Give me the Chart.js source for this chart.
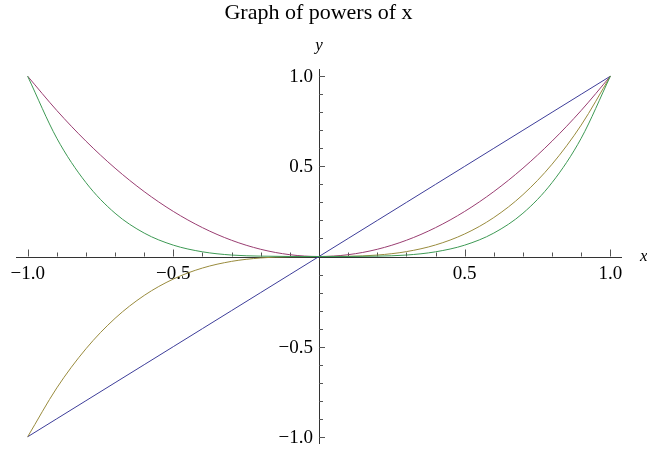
<!DOCTYPE html>
<html>
<head>
<meta charset="utf-8">
<script src="https://cdn.jsdelivr.net/npm/chart.js@4.4.1/dist/chart.umd.min.js"></script>
<style>
  html, body { margin: 0; padding: 0; background: #fff; }
  #wrap { width: 647px; height: 451px; position: relative; }
</style>
</head>
<body>
<div id="wrap"><canvas id="powers"></canvas></div>
<script>
// ---------- Data ----------
const xs     = [-1.0, -0.9, -0.8, -0.7, -0.6, -0.5, -0.4, -0.3, -0.2, -0.1, 0, 0.1, 0.2, 0.3, 0.4, 0.5, 0.6, 0.7, 0.8, 0.9, 1.0];
const pow1   = [-1.0, -0.9, -0.8, -0.7, -0.6, -0.5, -0.4, -0.3, -0.2, -0.1, 0, 0.1, 0.2, 0.3, 0.4, 0.5, 0.6, 0.7, 0.8, 0.9, 1.0];
const pow2   = [1.0, 0.81, 0.64, 0.49, 0.36, 0.25, 0.16, 0.09, 0.04, 0.01, 0, 0.01, 0.04, 0.09, 0.16, 0.25, 0.36, 0.49, 0.64, 0.81, 1.0];
const pow3   = [-1.0, -0.729, -0.512, -0.343, -0.216, -0.125, -0.064, -0.027, -0.008, -0.001, 0, 0.001, 0.008, 0.027, 0.064, 0.125, 0.216, 0.343, 0.512, 0.729, 1.0];
const pow4   = [1.0, 0.656, 0.41, 0.24, 0.13, 0.063, 0.026, 0.008, 0.002, 0.0001, 0, 0.0001, 0.002, 0.008, 0.026, 0.063, 0.13, 0.24, 0.41, 0.656, 1.0];

const majorTicks = [-1.0, -0.5, 0.5, 1.0];
const tickLabels = ["\u22121.0", "\u22120.5", "0.5", "1.0"];
const minorTicks = [-0.9, -0.8, -0.7, -0.6, -0.4, -0.3, -0.2, -0.1, 0.1, 0.2, 0.3, 0.4, 0.6, 0.7, 0.8, 0.9];

const titleText = "Graph of powers of x";
const colors = ["#3d3d99", "#993d71", "#998b3d", "#3d9954"];

const SERIF = "'Liberation Serif', 'Times New Roman', serif";

const toPoints = ys => xs.map((x, i) => ({ x, y: ys[i] }));

// ---------- Axes through the origin, Mathematica style ----------
const originAxes = {
  id: "originAxes",
  beforeDatasetsDraw(chart) {
    const { ctx, scales: { x, y } } = chart;
    const x0 = x.getPixelForValue(0);
    const y0 = y.getPixelForValue(0);
    ctx.save();
    ctx.strokeStyle = "#333";
    ctx.lineWidth = 1;

    ctx.beginPath();
    ctx.moveTo(x.left, Math.round(y0) + 0.5);
    ctx.lineTo(x.right, Math.round(y0) + 0.5);
    ctx.moveTo(Math.round(x0) + 0.5, y.top);
    ctx.lineTo(Math.round(x0) + 0.5, y.bottom);
    ctx.stroke();

    // ticks: x ticks point up, y ticks point right
    ctx.strokeStyle = "#555";
    ctx.beginPath();
    majorTicks.forEach(v => {
      const px = Math.round(x.getPixelForValue(v)) + 0.5;
      ctx.moveTo(px, y0); ctx.lineTo(px, y0 - 7);
      const py = Math.round(y.getPixelForValue(v)) + 0.5;
      ctx.moveTo(x0, py); ctx.lineTo(x0 + 6, py);
    });
    minorTicks.forEach(v => {
      const px = Math.round(x.getPixelForValue(v)) + 0.5;
      ctx.moveTo(px, y0); ctx.lineTo(px, y0 - 4);
      const py = Math.round(y.getPixelForValue(v)) + 0.5;
      ctx.moveTo(x0, py); ctx.lineTo(x0 + 4, py);
    });
    ctx.stroke();

    // tick labels
    ctx.fillStyle = "#000";
    ctx.font = "19px " + SERIF;
    ctx.textBaseline = "top";
    ctx.textAlign = "center";
    majorTicks.forEach((v, i) => {
      ctx.fillText(tickLabels[i], x.getPixelForValue(v), y0 + 8);
    });
    ctx.textBaseline = "middle";
    ctx.textAlign = "right";
    majorTicks.forEach((v, i) => {
      ctx.fillText(tickLabels[i], x0 - 6, y.getPixelForValue(v) + 1);
    });

    // axis names
    ctx.font = "italic 17px " + SERIF;
    ctx.textAlign = "left";
    ctx.fillText("x", x.right + 18, y0);
    ctx.textAlign = "center";
    ctx.fillText("y", x0, 46);

    // title
    ctx.font = "22px " + SERIF;
    ctx.fillText(titleText, chart.width / 2 - 5, 13);
    ctx.restore();
  }
};

new Chart(document.getElementById("powers"), {
  type: "scatter",
  data: {
    datasets: [pow1, pow2, pow3, pow4].map((ys, i) => ({
      label: "x^" + (i + 1),
      data: toPoints(ys),
      showLine: true,
      borderColor: colors[i],
      borderWidth: 1,
      pointRadius: 0,
      cubicInterpolationMode: "monotone",
      order: 4 - i
    }))
  },
  options: {
    responsive: true,
    maintainAspectRatio: false,
    animation: false,
    layout: { padding: { left: 16, right: 25, top: 69, bottom: 7 } },
    scales: {
      x: { type: "linear", min: -1.04, max: 1.04, display: false },
      y: { type: "linear", min: -1.04, max: 1.04, display: false }
    },
    plugins: {
      legend: { display: false },
      tooltip: { enabled: false },
      title: { display: false }
    }
  },
  plugins: [originAxes]
});
</script>
</body>
</html>
